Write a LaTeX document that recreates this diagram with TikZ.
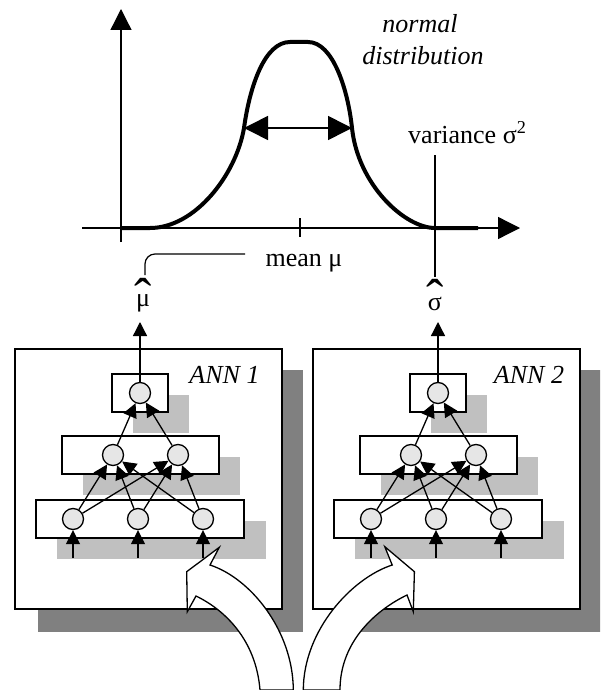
\documentclass[tikz,border=0pt]{standalone}
\usepackage{fontspec}
\setmainfont{Liberation Serif}
\usetikzlibrary{arrows.meta}
\definecolor{darksh}{HTML}{808080}
\definecolor{lightsh}{HTML}{C0C0C0}
\definecolor{nfill}{HTML}{E6E6E6}
\begin{document}
\begin{tikzpicture}[x=1pt,y=-1pt,
  font=\fontsize{26}{31}\selectfont,
  axis/.style={line width=1.3pt},
  bell/.style={line width=4pt, line join=round},
  neuron/.style={circle, draw, fill=nfill, line width=1.3pt, minimum size=21pt, inner sep=0pt},
  layer/.style={draw, fill=white, line width=1.5pt},
  link/.style={line width=1.3pt, -{Triangle[length=14pt,width=14pt]}},
  hollow/.style={draw, fill=white, line width=1.3pt, line join=miter},
  lbl/.style={inner sep=0pt, anchor=base},
  thinline/.style={line width=1.2pt}]
\useasboundingbox (0,0) rectangle (600,690);
\clip (0,0) rectangle (600,690);

% axes
\coordinate (yb) at (121,242);
\coordinate (yt) at (121,9);
\coordinate (xl) at (82,228);
\coordinate (xr) at (520,228);
\draw[axis, -{Triangle[length=21pt,width=21pt]}] (yb) -- (yt);
\draw[axis, -{Triangle[length=22pt,width=22pt]}] (xl) -- (xr);
\coordinate (tk1) at (300,218);
\coordinate (tk2) at (300,237);
\draw[axis] (tk1) -- (tk2);

% bell curve
\draw[bell] (121,228) -- (150,228)
  .. controls (195,228) and (236,175) .. (244,128)
  .. controls (250,85) and (265,42) .. (290,42) -- (308,42)
  .. controls (333,42) and (348,90) .. (352,128)
  .. controls (358,185) and (405,228) .. (435,228) -- (478,228);

% width arrow
\coordinate (wl) at (244,128);
\coordinate (wr) at (352,128);
\draw[line width=1.6pt, {Triangle[length=24pt,width=24pt]}-{Triangle[length=24pt,width=24pt]}] (wl) -- (wr);

% variance line
\coordinate (v1) at (435,155);
\coordinate (v2) at (435,277);
\draw[thinline] (v1) -- (v2);

% texts
\node[lbl, font={\fontsize{26}{31}\selectfont\itshape}] (nd1) at (420,33) {normal};
\node[lbl, font={\fontsize{26}{31}\selectfont\itshape}] (nd2) at (423,65) {distribution};
\node[lbl, anchor=base west] (var) at (408,143) {variance σ\textsuperscript{2}};
\node[lbl] (mean) at (304,266) {mean μ};
\coordinate (ml1) at (245,254);
\coordinate (ml2) at (145,275);
\draw[thinline, rounded corners=10pt] (ml1) -- (145,254) -- (ml2);

\node[lbl] (muhat) at (143,306) {\ooalign{μ\cr\hidewidth\raisebox{-8.5pt}{\scalebox{2}{ˆ}}\hidewidth\cr}};
\node[lbl] (sighat) at (435,310) {\ooalign{σ\cr\hidewidth\raisebox{-5pt}{\scalebox{2}{ˆ}}\hidewidth\cr}};

% networks
\foreach \k/\dx in {1/0,2/298}{
\begin{scope}[xshift=\dx]
  \fill[darksh] (38,370) rectangle (303,632);
  \draw[layer] (15,349) rectangle (282,609);
  \fill[lightsh] (133,395) rectangle (189,433);
  \fill[lightsh] (83,457) rectangle (240,495);
  \fill[lightsh] (57,521) rectangle (266,559);
  \draw[layer] (112,374) rectangle (168,412);
  \draw[layer] (62,436) rectangle (219,474);
  \draw[layer] (36,500) rectangle (244,538);
  \node[neuron] (t\k) at (140,393) {};
  \node[neuron] (a\k) at (113,455) {};
  \node[neuron] (b\k) at (178,455) {};
  \node[neuron] (x\k) at (73,519) {};
  \node[neuron] (y\k) at (138,519) {};
  \node[neuron] (z\k) at (203,519) {};
  \coordinate (ix\k) at (73,558);
  \coordinate (iy\k) at (138,558);
  \coordinate (iz\k) at (203,558);
  \coordinate (o\k) at (140,322);
  \foreach \s in {x,y,z}{
    \foreach \d in {a,b}{
      \draw[link] (\s\k) -- (\d\k);
    }
  }
  \draw[link] (a\k) -- (t\k);
  \draw[link] (b\k) -- (t\k);
  \draw[link] (ix\k) -- (x\k);
  \draw[link] (iy\k) -- (y\k);
  \draw[link] (iz\k) -- (z\k);
  \draw[link] (t\k) -- (o\k);
\end{scope}
}

\node[lbl, font={\fontsize{26}{31}\selectfont\itshape}] (ann1) at (224.5,383) {ANN 1};
\node[lbl, font={\fontsize{26}{31}\selectfont\itshape}] (ann2) at (529,383) {ANN 2};

% hollow curved arrows
\draw[hollow] (219.3,547.3) -- (210,565)
  .. controls (250,578) and (293,630) .. (293.3,690)
  -- (260,690)
  .. controls (256,640) and (225,610) .. (196,596)
  -- (187.3,611.7) -- (186.7,571.7) -- cycle;
\draw[hollow] (384.8,546.7) -- (392.2,565)
  .. controls (352,578) and (303.5,630) .. (303.3,690)
  -- (340,690)
  .. controls (340,640) and (378,609) .. (407,595)
  -- (413.3,611.7) -- (414.4,571.7) -- cycle;
\end{tikzpicture}
\end{document}
